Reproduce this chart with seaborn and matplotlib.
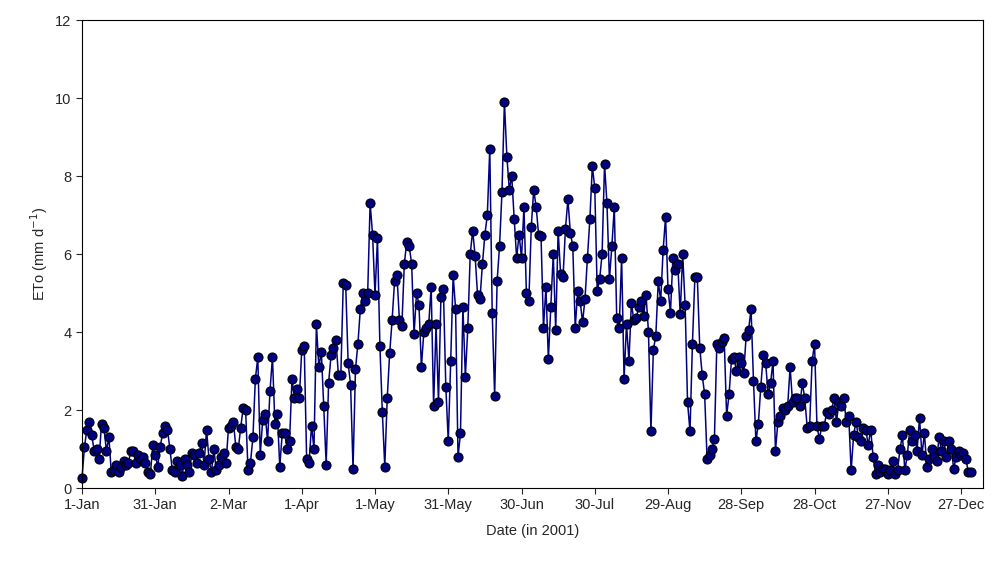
import numpy as np
import pandas as pd
import matplotlib
matplotlib.use("Agg")
import matplotlib.pyplot as plt
import seaborn as sns

jan = [0.25, 1.05, 1.5, 1.7, 1.35, 0.95, 1.0, 0.75, 1.65, 1.55, 0.95, 1.3, 0.4, 0.45, 0.6, 0.4,
       0.55, 0.7, 0.6, 0.65, 0.95, 0.95, 0.65, 0.85, 0.75, 0.8, 0.65, 0.4, 0.35, 1.1, 0.85]
feb = [0.55, 1.05, 1.4, 1.6, 1.5, 1.0, 0.45, 0.4, 0.7, 0.6, 0.3, 0.75, 0.6, 0.4, 0.9, 0.85,
       0.65, 0.9, 1.15, 0.6, 1.5, 0.75, 0.4, 1.0, 0.45, 0.6, 0.8, 0.9]
mar = [0.65, 1.55, 1.6, 1.7, 1.05, 1.0, 1.55, 2.05, 2.0, 0.45, 0.65, 1.3, 2.8, 3.35, 0.85, 1.75,
       1.9, 1.2, 2.5, 3.35, 1.65, 1.9, 0.55, 1.4, 1.4, 1.0, 1.2, 2.8, 2.3, 2.55, 2.3]
apr = [3.55, 3.65, 0.75, 0.65, 1.6, 1.0, 4.2, 3.1, 3.5, 2.1, 0.6, 2.7, 3.4, 3.6, 3.8, 2.9,
       2.9, 5.25, 5.2, 3.2, 2.65, 0.5, 3.05, 3.7, 4.6, 5.0, 4.8, 5.0, 7.3, 6.5]
may = [4.95, 6.4, 3.65, 1.95, 0.55, 2.3, 3.45, 4.3, 5.3, 5.45, 4.3, 4.15, 5.75, 6.3, 6.2, 5.75,
       3.95, 5.0, 4.7, 3.1, 4.0, 4.1, 4.2, 5.15, 2.1, 4.2, 2.2, 4.9, 5.1, 2.6, 1.2]
jun = [3.25, 5.45, 4.6, 0.8, 1.4, 4.65, 2.85, 4.1, 6.0, 6.6, 5.95, 4.95, 4.85, 5.75, 6.5, 7.0,
       8.7, 4.5, 2.35, 5.3, 6.2, 7.6, 9.9, 8.5, 7.65, 8.0, 6.9, 5.9, 6.5, 5.9]
jul = [7.2, 5.0, 4.8, 6.7, 7.65, 7.2, 6.5, 6.45, 4.1, 5.15, 3.3, 4.65, 6.0, 4.05, 6.6, 5.5,
       5.4, 6.65, 7.4, 6.55, 6.2, 4.1, 5.05, 4.8, 4.25, 4.85, 5.9, 6.9, 8.25, 7.7, 5.05]
aug = [5.35, 6.0, 8.3, 7.3, 5.35, 6.2, 7.2, 4.35, 4.1, 5.9, 2.8, 4.2, 3.25, 4.75, 4.3, 4.35,
       4.65, 4.8, 4.4, 4.95, 4.0, 1.45, 3.55, 3.9, 5.3, 4.8, 6.1, 6.95, 5.1, 4.5, 5.9]
sep = [5.6, 5.75, 4.45, 6.0, 4.7, 2.2, 1.45, 3.7, 5.4, 5.4, 3.6, 2.9, 2.4, 0.75, 0.85, 1.0,
       1.25, 3.7, 3.6, 3.75, 3.85, 1.85, 2.4, 3.3, 3.35, 3.0, 3.35, 3.2, 2.95, 3.9]
oct_ = [4.05, 4.6, 2.75, 1.2, 1.65, 2.6, 3.4, 3.2, 2.4, 2.7, 3.25, 0.95, 1.7, 1.85, 2.05, 2.0,
        2.1, 3.1, 2.2, 2.3, 2.3, 2.1, 2.7, 2.3, 1.55, 1.6, 3.25, 3.7, 1.6, 1.25, 1.6]
nov = [1.6, 1.95, 1.9, 2.0, 2.3, 1.7, 2.2, 2.1, 2.3, 1.7, 1.85, 0.45, 1.35, 1.7, 1.3, 1.2,
       1.55, 1.5, 1.1, 1.5, 0.8, 0.35, 0.6, 0.4, 0.5, 0.5, 0.35, 0.45, 0.7, 0.35]
dec = [0.45, 1.0, 1.35, 0.45, 0.85, 1.5, 1.2, 1.35, 0.95, 1.8, 0.85, 1.4, 0.55, 0.75, 1.0, 0.8,
       0.7, 1.3, 0.95, 1.2, 0.8, 1.2, 1.0, 0.5, 0.8, 0.95, 0.85, 0.9, 0.75, 0.4, 0.4]

eto = jan + feb + mar + apr + may + jun + jul + aug + sep + oct_ + nov + dec
tick_labels = ["1-Jan", "31-Jan", "2-Mar", "1-Apr", "1-May", "31-May", "30-Jun",
               "30-Jul", "29-Aug", "28-Sep", "28-Oct", "27-Nov", "27-Dec"]

df = pd.DataFrame({"day": np.arange(len(eto)), "eto": eto})

sns.set_style("ticks")
plt.rcParams["font.family"] = ["Arial", "Liberation Sans", "DejaVu Sans"]

fig = plt.figure(figsize=(9.94, 5.61), dpi=100)
ax = fig.add_axes([82 / 994, 1 - 488 / 561, (983 - 82) / 994, (488 - 20) / 561])
sns.lineplot(data=df, x="day", y="eto", ax=ax, color="#000080", lw=1.1,
             marker="o", markersize=6.5, markerfacecolor="#000080",
             markeredgecolor="black", markeredgewidth=0.8, clip_on=False)

ax.set_xlim(0, 369)
ax.set_ylim(0, 12)
ax.set_xticks(np.arange(0, 361, 30))
ax.set_xticklabels(tick_labels)
ax.set_yticks(np.arange(0, 13, 2))
ax.tick_params(labelsize=10.5, direction="out", length=4)
ax.set_xlabel("Date (in 2001)", fontsize=10.5, labelpad=8)
ax.set_ylabel("ETo (mm d$^{-1}$)", fontsize=10.5)
for s in ax.spines.values():
    s.set_color("black")
    s.set_linewidth(0.8)

fig.savefig("out.png", dpi=100)
